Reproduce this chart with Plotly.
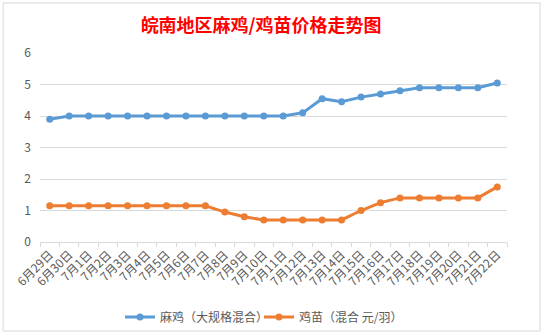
import plotly.graph_objects as go

dates = ["6月29日", "6月30日"] + [f"7月{d}日" for d in range(1, 23)]
maji = [3.9, 4, 4, 4, 4, 4, 4, 4, 4, 4, 4, 4, 4, 4.1, 4.55, 4.45, 4.6, 4.7, 4.8, 4.9, 4.9, 4.9, 4.9, 5.05]
jimiao = [1.15, 1.15, 1.15, 1.15, 1.15, 1.15, 1.15, 1.15, 1.15, 0.95, 0.8, 0.7, 0.7, 0.7, 0.7, 0.7, 1.0, 1.25, 1.4, 1.4, 1.4, 1.4, 1.4, 1.75]
y_ticks = [0, 1, 2, 3, 4, 5, 6]

title_text = "皖南地区麻鸡/鸡苗价格走势图"
name1 = "麻鸡（大规格混合）"
name2 = "鸡苗（混合 元/羽）"

blue = "#5B9BD5"
orange = "#ED7D31"
font_family = "Noto Sans CJK SC, Microsoft YaHei, sans-serif"

fig = go.Figure()
fig.add_trace(go.Scatter(x=dates, y=maji, name=name1, mode="lines+markers", legend="legend",
                         line=dict(color=blue, width=3), marker=dict(color=blue, size=7)))
fig.add_trace(go.Scatter(x=dates, y=jimiao, name=name2, mode="lines+markers", legend="legend2",
                         line=dict(color=orange, width=3), marker=dict(color=orange, size=7)))

legend_common = dict(orientation="h", xanchor="left", xref="container",
                     y=0.1, yanchor="top", yref="container",
                     font=dict(size=12, color="#595959"), itemwidth=30,
                     bgcolor="rgba(0,0,0,0)")

fig.update_layout(
    width=544, height=336,
    margin=dict(l=40, r=37, t=53, b=94, autoexpand=False),
    paper_bgcolor="white", plot_bgcolor="white",
    font=dict(family=font_family, color="#595959", size=11),
    title=dict(text=title_text, x=0.48, xanchor="center", y=0.925, yanchor="middle",
               font=dict(family=font_family, size=18, color="#FF0000", weight="bold")),
    showlegend=True,
    legend=dict(x=120 / 544, **legend_common),
    legend2=dict(x=259 / 544, **legend_common),
    xaxis=dict(type="category", range=[-0.5, len(dates) - 0.5], tickangle=-45,
               showgrid=False, automargin=False,
               showline=True, linecolor="#D9D9D9", linewidth=1,
               ticks="outside", tickson="boundaries", ticklen=4, tickcolor="#D9D9D9",
               tickfont=dict(size=12, color="#595959"), fixedrange=True),
    yaxis=dict(range=[0, 6], tickvals=y_ticks, showgrid=True, gridcolor="#D9D9D9",
               gridwidth=1, zeroline=False, showline=False, ticks="", automargin=False,
               tickfont=dict(size=12, color="#595959"), ticklabelstandoff=8),
    shapes=[dict(type="rect", xref="paper", yref="paper",
                 x0=-0.079, x1=1.0707, y0=-0.471, y1=1.2646,
                 line=dict(color="#D9D9D9", width=1), fillcolor="rgba(0,0,0,0)", layer="below")],
)

fig.write_html("out.html")
